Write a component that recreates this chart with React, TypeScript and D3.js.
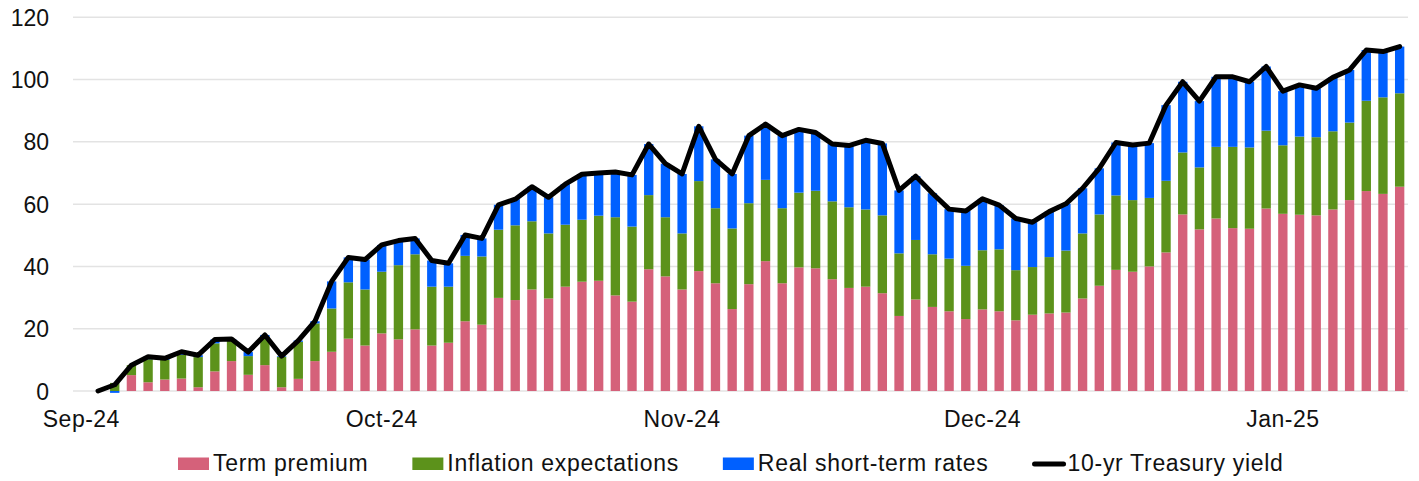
import React, { useMemo } from 'react';
import * as d3 from 'd3';

// values in bp, one per trading day (first category of the axis is empty)
const termPremium = [
  0, 0, 5.1, 2.8, 3.7, 4.0, 1.2, 6.3, 9.6, 5.2, 8.3, 1.2, 3.9, 9.6, 12.6, 16.8, 14.6, 18.5, 16.6, 19.8,
  14.6, 15.5, 22.4, 21.3, 29.9, 29.2, 32.6, 29.7, 33.5, 35.1, 35.4, 30.7, 28.7, 39.1, 36.8, 32.6, 38.5, 34.6, 26.3, 34.3,
  41.7, 34.6, 39.7, 39.4, 35.9, 33.1, 33.5, 31.4, 24.1, 29.4, 27.0, 25.6, 23.1, 26.2, 25.6, 22.7, 24.5, 24.9, 25.2, 29.7,
  33.8, 38.9, 38.3, 40.0, 44.5, 56.7, 51.9, 55.4, 52.3, 52.1, 58.6, 56.9, 56.6, 56.4, 58.3, 61.3, 64.2, 63.3, 65.6,
];
const inflationExpectations = [
  0, 2.6, 3.2, 7.4, 6.3, 7.6, 9.7, 9.0, 6.8, 6.0, 8.6, 9.8, 11.9, 12.1, 13.9, 18.1, 18.0, 19.8, 23.8, 24.1,
  18.9, 18.0, 21.0, 21.9, 21.9, 24.0, 21.9, 20.9, 19.9, 19.9, 20.9, 25.1, 24.1, 23.8, 19.0, 18.0, 28.9, 24.1, 25.9, 26.0,
  26.1, 24.1, 24.0, 24.9, 25.0, 25.9, 24.8, 25.0, 20.1, 19.1, 16.9, 16.9, 17.1, 19.0, 19.9, 16.1, 15.3, 18.1, 19.9, 20.9,
  22.9, 23.9, 23.0, 22.0, 23.0, 19.9, 19.9, 23.0, 26.1, 26.1, 25.0, 22.0, 25.1, 25.1, 25.1, 24.9, 29.0, 31.0, 30.0,
];
const realShortTermRates = [
  0, -0.6, 0, 0.8, 0.5, 1.0, 0.6, 1.2, 0.3, 1.3, 1.1, 0.2, 0.4, 0.7, 8.7, 8.0, 9.6, 8.6, 7.9, 5.1,
  8.4, 7.5, 6.7, 5.8, 8.0, 8.4, 11.1, 11.6, 13.0, 14.6, 13.7, 14.5, 16.6, 16.4, 17.2, 19.1, 17.6, 15.7, 17.5, 21.7,
  17.9, 23.3, 20.3, 18.7, 18.4, 19.8, 22.2, 23.1, 20.2, 20.5, 19.6, 15.9, 17.6, 16.5, 14.2, 16.6, 14.4, 14.6, 15.0, 14.5,
  14.8, 17.0, 17.7, 17.6, 24.3, 22.7, 21.3, 22.5, 22.5, 21.1, 20.6, 17.4, 16.6, 15.7, 17.3, 16.9, 16.3, 14.7, 15.0,
];
const treasuryYield = [
  0, 2.0, 8.3, 11.0, 10.5, 12.6, 11.5, 16.5, 16.7, 12.5, 18.0, 11.2, 16.2, 22.4, 35.2, 42.9, 42.2, 46.9, 48.3, 49.0,
  41.9, 41.0, 50.1, 49.0, 59.8, 61.6, 65.6, 62.2, 66.4, 69.6, 70.0, 70.3, 69.4, 79.3, 73.0, 69.7, 85.0, 74.4, 69.7, 82.0,
  85.7, 82.0, 84.0, 83.0, 79.3, 78.8, 80.5, 79.5, 64.4, 69.0, 63.5, 58.4, 57.8, 61.7, 59.7, 55.4, 54.2, 57.6, 60.1, 65.1,
  71.5, 79.8, 79.0, 79.6, 91.8, 99.3, 93.1, 100.9, 100.9, 99.3, 104.2, 96.3, 98.3, 97.2, 100.7, 103.1, 109.5, 109.0, 110.6,
];
const tickLabels = ['Sep-24', 'Oct-24', 'Nov-24', 'Dec-24', 'Jan-25'];
const labelEvery = 18;
const yTicks = [0, 20, 40, 60, 80, 100, 120];

const seriesNames = ['Term premium', 'Inflation expectations', 'Real short-term rates'];
const seriesColors = ['#D5617A', '#5C921B', '#0060FF'];
const lineName = '10-yr Treasury yield';

const W = 1419;
const H = 481;
const FONT = '"Liberation Sans", Arial, sans-serif';
const FS = 23;
const LEGEND_LS = 0.7;

const measure = (() => {
  let ctx: CanvasRenderingContext2D | null = null;
  return (t: string) => {
    if (!ctx) ctx = document.createElement('canvas').getContext('2d');
    if (!ctx) return t.length * FS * 0.55;
    ctx.font = `${FS}px ${FONT}`;
    return ctx.measureText(t).width + t.length * LEGEND_LS;
  };
})();

export default function App() {
  const nCat = termPremium.length + 1;
  const x = d3.scaleBand<number>().domain(d3.range(nCat)).range([73, 1408]).padding(0);
  const y = d3.scaleLinear().domain([0, 120]).range([391, 17.3]);
  const barW = x.bandwidth() * 0.56;
  const cx = (i: number) => (x(i + 1) as number) + x.bandwidth() / 2;

  const rows = termPremium.map((v, i) => ({
    i,
    [seriesNames[0]]: v,
    [seriesNames[1]]: inflationExpectations[i],
    [seriesNames[2]]: realShortTermRates[i],
  }));
  const stacked = d3
    .stack<any>()
    .keys(seriesNames)
    .offset(d3.stackOffsetDiverging)(rows);

  const linePath = d3
    .line<number>()
    .x((_, i) => cx(i))
    .y((d) => y(d))(treasuryYield);

  // legend laid out left to right from the measured label widths
  const legend = useMemo(() => {
    const items = [...seriesNames, lineName];
    let pos = 178;
    return items.map((name, k) => {
      const it = { name, k, x: pos, tx: pos + 36 };
      pos = it.tx + measure(name) + 43;
      return it;
    });
  }, []);

  return (
    <div>
      <style>{`body{margin:0}`}</style>
      <svg width={W} height={H} style={{ display: 'block', fontFamily: FONT }}>
        <rect width={W} height={H} fill="#fff" />
        {yTicks.map((t) => (
          <g key={t}>
            <line x1={73} x2={1408} y1={y(t)} y2={y(t)} stroke="#E3E3E3" strokeWidth={1.5} />
            <text x={49} y={y(t) + 8.5} textAnchor="end" fontSize={FS} fill="#111">
              {t}
            </text>
          </g>
        ))}
        {stacked.map((s, k) => (
          <g key={s.key} fill={seriesColors[k]}>
            {s.map((d, i) => {
              const y0 = y(d[0]);
              const y1 = y(d[1]);
              if (Math.abs(y0 - y1) < 0.01) return null;
              return (
                <rect
                  key={i}
                  x={cx(i) - barW / 2}
                  width={barW}
                  y={Math.min(y0, y1)}
                  height={Math.abs(y0 - y1)}
                />
              );
            })}
          </g>
        ))}
        <path
          d={linePath || ''}
          fill="none"
          stroke="#000"
          strokeWidth={5}
          strokeLinejoin="round"
          strokeLinecap="round"
        />
        {tickLabels.map((t, k) => (
          <text
            key={t}
            x={(x(k * labelEvery) as number) + x.bandwidth() / 2}
            y={427}
            textAnchor="middle"
            fontSize={FS}
            letterSpacing={0.5}
            fill="#111"
          >
            {t}
          </text>
        ))}
        {legend.map((it) => (
          <g key={it.name}>
            {it.k < 3 ? (
              <rect x={it.x} y={457.5} width={31} height={12.5} fill={seriesColors[it.k]} />
            ) : (
              <line
                x1={it.x + 2}
                x2={it.x + 31}
                y1={464}
                y2={464}
                stroke="#000"
                strokeWidth={5}
                strokeLinecap="round"
              />
            )}
            <text x={it.tx - 1} y={471} fontSize={FS} letterSpacing={LEGEND_LS} fill="#111">
              {it.name}
            </text>
          </g>
        ))}
      </svg>
    </div>
  );
}
